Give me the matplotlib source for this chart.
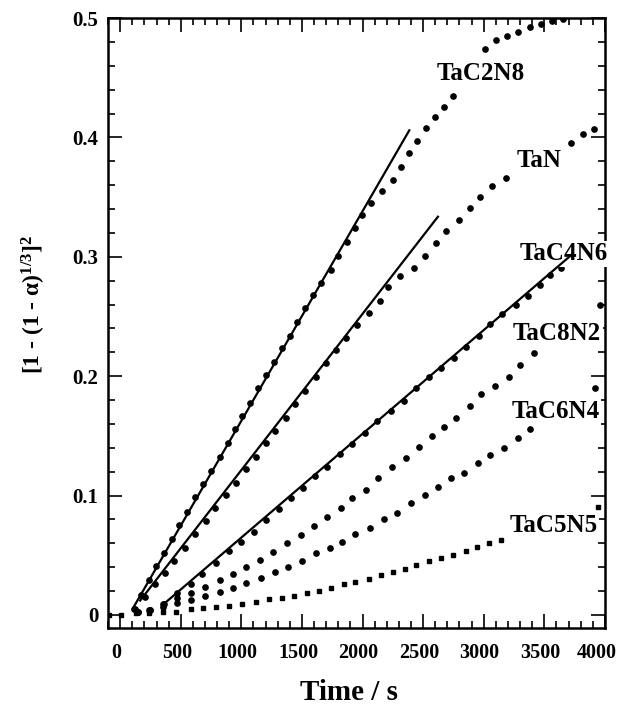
import numpy as np
import matplotlib
matplotlib.use("Agg")
import matplotlib.pyplot as plt
import matplotlib.transforms as mtransforms
from matplotlib.ticker import MultipleLocator

plt.rcParams["font.family"] = ["Liberation Serif", "DejaVu Serif"]
plt.rcParams["font.weight"] = "bold"
plt.rcParams["mathtext.fontset"] = "custom"
plt.rcParams["mathtext.rm"] = "Liberation Serif:bold"
plt.rcParams["mathtext.it"] = "Liberation Serif:bold"
plt.rcParams["mathtext.bf"] = "Liberation Serif:bold"

tac2n8_t = [114, 175, 235, 298, 361, 428, 483, 554, 620, 684,
            752, 821, 890, 950, 1008, 1068, 1137, 1200, 1266, 1338,
            1399, 1462, 1522, 1591, 1660, 1737, 1797, 1871, 1935, 1995,
            2073, 2160, 2251, 2320, 2380, 2449, 2521, 2595, 2672, 2746,
            3013, 3104, 3195, 3282, 3384, 3475, 3563, 3653]
tac2n8_y = [0.0047, 0.017, 0.0293, 0.041, 0.0522, 0.0636, 0.0754, 0.0865, 0.0985, 0.1097,
            0.1209, 0.1326, 0.1438, 0.1555, 0.1669, 0.1778, 0.1899, 0.201, 0.2121, 0.2234,
            0.234, 0.2456, 0.2574, 0.268, 0.2778, 0.289, 0.3007, 0.3121, 0.3238, 0.335,
            0.3453, 0.3554, 0.3643, 0.3755, 0.3872, 0.397, 0.4076, 0.4173, 0.4257, 0.4349,
            0.474, 0.4816, 0.4852, 0.4886, 0.4927, 0.4947, 0.4975, 0.4992]

tan_t = [120, 202, 285, 367, 444, 532, 620, 711, 785, 876,
         953, 1041, 1124, 1200, 1275, 1365, 1446, 1522, 1613, 1701,
         1784, 1866, 1958, 2050, 2141, 2210, 2306, 2424, 2518, 2603,
         2691, 2793, 2884, 2972, 3068, 3181, 3723, 3819, 3909]
tan_y = [0.005, 0.0148, 0.0257, 0.0349, 0.0452, 0.0564, 0.0676, 0.0787, 0.0899, 0.1005,
         0.1103, 0.1223, 0.1326, 0.1438, 0.1541, 0.1652, 0.1765, 0.1879, 0.1991, 0.2108,
         0.222, 0.2323, 0.2425, 0.2527, 0.2633, 0.275, 0.284, 0.291, 0.301, 0.3118,
         0.3218, 0.3308, 0.3406, 0.3503, 0.3593, 0.3662, 0.3956, 0.4028, 0.407]

tac4n6_t = [240, 361, 472, 582, 675, 794, 895, 1000, 1102, 1206,
            1308, 1412, 1508, 1605, 1709, 1811, 1913, 2017, 2122, 2232,
            2342, 2444, 2545, 2650, 2754, 2857, 2958, 3049, 3153, 3263,
            3365, 3461, 3544, 3640]
tac4n6_y = [0.004, 0.0092, 0.0182, 0.026, 0.034, 0.0438, 0.0536, 0.0614, 0.0698, 0.0796,
            0.0885, 0.0982, 0.1066, 0.1167, 0.1242, 0.1346, 0.1432, 0.152, 0.1625, 0.1709,
            0.179, 0.190, 0.1996, 0.2071, 0.215, 0.2247, 0.234, 0.2437, 0.252, 0.2596,
            0.2674, 0.2764, 0.2848, 0.291]

tac8n2_t = [150, 250, 353, 472, 582, 697, 821, 931, 1041, 1151,
            1261, 1379, 1489, 1599, 1709, 1819, 1913, 2025, 2127, 2243,
            2361, 2463, 2573, 2672, 2774, 2884, 2980, 3090, 3206, 3302,
            3412, 3956]
tac8n2_y = [0.002, 0.004, 0.009, 0.014, 0.0187, 0.0232, 0.0288, 0.0343, 0.0399, 0.046,
            0.053, 0.060, 0.067, 0.0745, 0.0823, 0.0899, 0.0982, 0.105, 0.1145, 0.1242,
            0.1312, 0.141, 0.150, 0.157, 0.165, 0.175, 0.185, 0.192, 0.1996, 0.209,
            0.219, 0.260]

tac6n4_t = [150, 250, 353, 472, 587, 703, 821, 931, 1041, 1159,
            1275, 1385, 1500, 1619, 1729, 1833, 1935, 2059, 2177, 2287,
            2403, 2512, 2622, 2732, 2837, 2952, 3049, 3164, 3282, 3379,
            3915]
tac6n4_y = [0.002, 0.004, 0.007, 0.0098, 0.0126, 0.0159, 0.0195, 0.0229, 0.027, 0.0312,
            0.0363, 0.0405, 0.0452, 0.0517, 0.0564, 0.0614, 0.0678, 0.0731, 0.0801, 0.0857,
            0.0935, 0.1005, 0.107, 0.1145, 0.119, 0.127, 0.134, 0.1396, 0.148, 0.156,
            0.190]

tac5n5_t = [-90, 10, 133, 238, 353, 463, 582, 683, 793, 898,
            1005, 1118, 1225, 1335, 1434, 1541, 1638, 1742, 1844, 1940,
            2050, 2149, 2251, 2353, 2444, 2545, 2650, 2746, 2851, 2947,
            3040, 3145, 3942]
tac5n5_y = [0, 0, 0.0014, 0.0014, 0.0022, 0.0028, 0.0047, 0.0056, 0.0064, 0.0078,
            0.0092, 0.0106, 0.0131, 0.0145, 0.0162, 0.0187, 0.0204, 0.0229, 0.026, 0.0279,
            0.0304, 0.0335, 0.0363, 0.0383, 0.0419, 0.0452, 0.048, 0.0503, 0.0539, 0.0572,
            0.0606, 0.0628, 0.0907]

# Linear fits (start and end points) for TaC2N8, TaN, TaC4N6
fit_t0 = [106, 165, 361]
fit_y0 = [0.0056, 0.012, 0.0092]
fit_t1 = [2386, 2622, 3723]
fit_y1 = [0.406, 0.3336, 0.3015]

# Series labels and where they sit (baseline)
labels = ["TaC2N8", "TaN", "TaC4N6", "TaC8N2", "TaC6N4", "TaC5N5"]
label_t = [2973, 3461, 3660, 3606, 3592, 3578]
label_y = [0.448, 0.3755, 0.2973, 0.2303, 0.1647, 0.0698]

x_ticks = [0, 500, 1000, 1500, 2000, 2500, 3000, 3500, 4000]
y_ticks = [0, 0.1, 0.2, 0.3, 0.4, 0.5]
y_ticklabels = ["0", "0.1", "0.2", "0.3", "0.4", "0.5"]

fig = plt.figure(figsize=(6.23, 7.10), dpi=100)
ax = fig.add_axes([0.1734, 0.1155, 0.7976, 0.859])

series = [(tac2n8_t, tac2n8_y, "o"), (tan_t, tan_y, "o"), (tac4n6_t, tac4n6_y, "o"),
          (tac8n2_t, tac8n2_y, "o"), (tac6n4_t, tac6n4_y, "o"), (tac5n5_t, tac5n5_y, "s")]
for t, y, m in series:
    ax.plot(t, y, linestyle="none", marker=m, markersize=3.8 if m == "o" else 3.4,
            color="black", zorder=2)

for t0, y0, t1, y1 in zip(fit_t0, fit_y0, fit_t1, fit_y1):
    ax.plot([t0, t1], [y0, y1], color="black", linewidth=1.6, zorder=3)

for name, t, y in zip(labels, label_t, label_y):
    ax.text(t, y, name, ha="center", va="baseline", fontsize=18, fontweight="bold",
            bbox=dict(facecolor="white", edgecolor="none", pad=1.0),
            clip_on=False, zorder=2.6)

ax.set_xlim(-100, 4000)
ax.set_ylim(-0.011, 0.5)
ax.set_xticks(x_ticks)
ax.set_yticks(y_ticks)
ax.set_yticklabels(y_ticklabels)
ax.xaxis.set_minor_locator(MultipleLocator(100))
ax.yaxis.set_minor_locator(MultipleLocator(0.02))
ax.tick_params(which="both", direction="in", top=True, right=True, width=1.2)
ax.tick_params(which="major", length=10)
ax.tick_params(which="minor", length=5)
ax.tick_params(axis="x", which="major", pad=11, labelsize=14.5)
ax.tick_params(axis="y", which="major", pad=7, labelsize=15)
for s in ax.spines.values():
    s.set_linewidth(1.8)

# x tick labels sit a little left of their ticks in the original
shift = mtransforms.ScaledTranslation(-4 / 100, 0, fig.dpi_scale_trans)
xlabels = ax.get_xticklabels()
for lab in xlabels:
    lab.set_transform(lab.get_transform() + shift)
xlabels[-1].set_transform(xlabels[-1].get_transform()
                          + mtransforms.ScaledTranslation(-4 / 100, 0, fig.dpi_scale_trans))

ax.set_xlabel("Time / s", fontsize=21, fontweight="bold")
ax.xaxis.set_label_coords(0.485, -0.083)
ax.set_ylabel(r"[1 - (1 - α)$^{1/3}$]$^2$", fontsize=17, fontweight="bold")
ax.yaxis.set_label_coords(-0.12, 0.53)

fig.savefig("out.png", dpi=100)
